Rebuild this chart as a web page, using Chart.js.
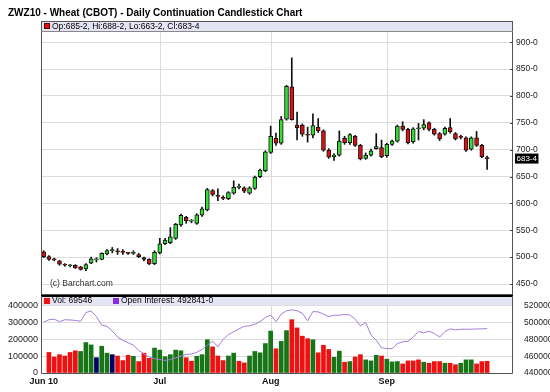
<!DOCTYPE html>
<html>
<head>
<meta charset="utf-8">
<script src="https://cdn.jsdelivr.net/npm/chart.js@4.4.1/dist/chart.umd.min.js"></script>
<style>
  html, body { margin: 0; padding: 0; background: #fff; }
  #wrap { position: relative; width: 550px; height: 392px; }
  #priceChart { position: absolute; left: 0; top: 0; }
  #volChart { position: absolute; left: 0; top: 295px; }
</style>
</head>
<body>
<div id="wrap">
  <canvas id="priceChart" width="550" height="296"></canvas>
  <canvas id="volChart" width="550" height="97"></canvas>
</div>
<script>
// daily bars, Jun 2010 .. Sep 2010
const open = [510, 501, 497, 493, 485.5, 484, 485, 482, 478, 489, 495, 496, 506, 512, 511, 510, 508, 507, 505, 499,
  496, 488, 508, 525, 527, 535, 560, 574, 567, 563, 578, 588, 624, 614, 611, 609, 619, 630, 629, 619,
  628, 650, 661, 695, 721, 712, 757, 817, 746, 746, 728, 727, 742, 735, 699, 687, 690, 721, 713, 725,
  708, 684, 690, 702, 704, 689, 710, 716, 744, 738, 715, 739, 740, 750, 738, 730, 729, 741, 730, 724,
  722, 701, 722, 708, 685.25];
const high = [512, 503, 498, 494, 488, 486, 486, 483, 488, 500, 499, 508, 514, 518, 516, 514, 509, 512, 507, 500,
  497, 512, 535, 535, 555, 563, 580, 576, 570, 581, 593, 628, 626, 627, 614, 622, 642, 636, 631, 631,
  651, 664, 698, 744, 731, 762, 820, 871, 770, 748, 742, 767, 758, 737, 702, 693, 735, 725, 730, 727,
  710, 694, 701, 730, 718, 712, 718, 746, 752, 740, 741, 749, 756, 752, 740, 732, 742, 758, 732, 727,
  724, 724, 734, 710, 688.25];
const low = [499, 494, 493, 485, 483, 482, 479, 476, 475, 488, 491, 495, 504, 508, 505, 505, 505, 505, 499, 493,
  486, 486, 506, 523, 525, 533, 557, 563, 564, 561, 576, 586, 614, 605, 607, 607, 617, 627, 620, 617,
  626, 648, 659, 693, 708, 710, 755, 755, 718, 725, 714, 722, 732, 697, 684, 680, 688, 710, 710, 706,
  681, 682, 688, 701, 685, 686, 708, 714, 735, 711, 712, 718, 737, 735, 727, 717, 727, 731, 718, 720,
  697, 699, 706, 685, 663.25];
const close = [501, 496, 495, 487, 485, 484.5, 480, 477, 486, 497, 495, 507, 512, 512, 510, 509, 507, 507.5, 501, 496,
  487.5, 509, 525, 532, 538, 561, 578, 568, 567.5, 579, 590, 626, 617, 613, 609.5, 620, 630, 631, 623, 629,
  649, 662, 696, 725, 712, 756, 818, 756, 741, 729, 727, 745, 735, 699, 686, 690, 716, 713, 728, 708,
  683, 690, 698, 706, 687, 710, 716, 744, 738, 713, 739, 739.5, 747, 738, 729, 720, 740, 733, 720, 723,
  699, 722, 708, 687, 683.5];

const volume = [null, 122000, 95000, 109000, 101000, 122000, 132000, 128000, 181000, 167000,
  91000, 159000, 118000, 109000, 101000, 74000, 105000, 99000, 68000, 118000,
  87000, 148000, 136000, 97000, 109000, 136000, 132000, 91000, 70000, 99000,
  109000, 198000, 155000, 101000, 74000, 101000, 118000, 70000, 60000, 101000,
  128000, 120000, 175000, 249000, 144000, 188000, 252000, 317000, 268000, 219000,
  204000, 198000, 120000, 165000, 140000, 93000, 130000, 64000, 68000, 95000,
  109000, 78000, 72000, 105000, 101000, 82000, 66000, 68000, 54000, 72000,
  72000, 78000, 64000, 58000, 68000, 68000, 58000, 58000, 49000, 58000,
  78000, 78000, 54000, 68000, 69546];
// u = up, d = down, n = unchanged
const volDir = [null, 'd', 'd', 'd', 'd', 'd', 'd', 'u', 'u', 'u',
  'n', 'u', 'u', 'n', 'd', 'd', 'd', 'u', 'd', 'd',
  'd', 'u', 'u', 'u', 'u', 'u', 'u', 'd', 'd', 'u',
  'u', 'u', 'd', 'd', 'd', 'u', 'u', 'd', 'd', 'u',
  'u', 'u', 'u', 'u', 'd', 'u', 'u', 'd', 'd', 'd',
  'd', 'u', 'd', 'd', 'd', 'u', 'u', 'd', 'u', 'd',
  'd', 'u', 'u', 'u', 'd', 'u', 'u', 'u', 'd', 'd',
  'd', 'd', 'u', 'd', 'd', 'd', 'u', 'd', 'd', 'u',
  'u', 'u', 'd', 'd', 'd'];
const openInterest = [500500, 503300, 504000, 501000, 503300, 503000, 502500, 501500, 511800, 513800,
  507000, 497000, 495500, 490000, 482700, 478800, 476000, 473000, 467000, 462500,
  459000, 457000, 456000, 455000, 456000, 458000, 460000, 462000, 462500, 464500,
  468000, 473000, 478000, 471000, 480000, 485800, 489000, 492400, 495500, 496000,
  498000, 501000, 506000, 508700, 501000, 510000, 514000, 515000, 514000, 511000,
  502000, 513000, 512600, 510000, 507000, 508700, 508700, 509500, 509000, 504000,
  496000, 500000, 485400, 478800, 470000, 469000, 469000, 475000, 477000, 477700,
  482700, 489300, 487800, 489700, 487000, 482700, 489300, 492400, 491300, 492000,
  492000, 492000, 492400, 492400, 492841];

const monthLabels = ['Jun 10', 'Jul', 'Aug', 'Sep'];
const monthStart = [0, 22, 43, 65];
const priceTicks = [450, 500, 550, 600, 650, 700, 750, 800, 850, 900];
const volTicks = [0, 100000, 200000, 300000, 400000];
const oiTicks = [440000, 460000, 480000, 500000, 520000];

const FONT = '"Liberation Sans", Arial, sans-serif';
const X_MIN = -0.5, X_MAX = 88.9;

function fmtPrice(p) {
  const w = Math.floor(p);
  return w + '-' + Math.round((p - w) * 8);
}

// keep the axis labels from shrinking the plot area
function fixWidth(w) {
  return s => { s.width = w; s.paddingTop = 0; s.paddingBottom = 0; };
}

const last = close.length - 1;

function drawMonthLines(chart) {
  const { ctx, chartArea: a } = chart;
  const x = chart.scales.x;
  ctx.save();
  ctx.strokeStyle = '#dcdcdc';
  ctx.lineWidth = 1;
  monthStart.slice(1).forEach(v => {
    const px = Math.round(x.getPixelForValue(v)) + 0.5;
    ctx.beginPath();
    ctx.moveTo(px, a.top);
    ctx.lineTo(px, a.bottom);
    ctx.stroke();
  });
  ctx.restore();
}

const pricePanel = {
  id: 'pricePanel',
  beforeDatasetsDraw(chart) {
    const { ctx, chartArea: a } = chart;
    drawMonthLines(chart);
    ctx.save();
    ctx.fillStyle = '#e4e4f4';
    ctx.fillRect(a.left, a.top, a.right - a.left, 10);
    ctx.restore();
  },
  afterDraw(chart) {
    const { ctx, chartArea: a } = chart;
    const y = chart.scales.y;
    ctx.save();
    // frame
    ctx.strokeStyle = '#555';
    ctx.lineWidth = 1;
    ctx.strokeRect(a.left + 0.5, a.top + 0.5, a.right - a.left - 1, a.bottom - a.top);
    ctx.strokeStyle = '#888';
    ctx.beginPath();
    ctx.moveTo(a.left, a.top + 10.5);
    ctx.lineTo(a.right, a.top + 10.5);
    ctx.stroke();
    // inner tick marks
    ctx.strokeStyle = '#444';
    priceTicks.forEach(v => {
      const py = Math.round(y.getPixelForValue(v)) + 0.5;
      ctx.beginPath();
      ctx.moveTo(a.right - 3, py);
      ctx.lineTo(a.right, py);
      ctx.stroke();
    });
    // title
    ctx.fillStyle = '#000';
    ctx.font = 'bold 10px ' + FONT;
    ctx.textBaseline = 'middle';
    ctx.fillText('ZWZ10 - Wheat (CBOT) - Daily Continuation Candlestick Chart', 8, 13.5);
    // legend
    ctx.fillStyle = '#dd1111';
    ctx.fillRect(a.left + 3, a.top + 2, 6, 6);
    ctx.strokeStyle = '#600';
    ctx.strokeRect(a.left + 3.5, a.top + 2.5, 5, 5);
    ctx.fillStyle = '#000';
    ctx.font = '8.5px ' + FONT;
    ctx.fillText('Op:' + fmtPrice(open[last]) + ', Hi:' + fmtPrice(high[last]) + ', Lo:' +
      fmtPrice(low[last]) + ', Cl:' + fmtPrice(close[last]), a.left + 11, a.top + 5.5);
    // watermark
    ctx.fillStyle = '#333';
    ctx.font = '8.5px ' + FONT;
    ctx.fillText('(c) Barchart.com', 50, a.bottom - 10);
    // last price box
    const cy = y.getPixelForValue(close[last]);
    ctx.font = '8px ' + FONT;
    const lbl = fmtPrice(close[last]);
    const w = ctx.measureText(lbl).width;
    ctx.fillStyle = '#000';
    ctx.fillRect(a.right + 2, cy - 5, w + 3, 10);
    ctx.fillStyle = '#fff';
    ctx.fillText(lbl, a.right + 3.5, cy);
    ctx.restore();
  }
};

const volPanel = {
  id: 'volPanel',
  beforeDatasetsDraw(chart) {
    const { ctx, chartArea: a } = chart;
    drawMonthLines(chart);
    ctx.save();
    ctx.fillStyle = '#e4e4f4';
    ctx.fillRect(a.left, a.top, a.right - a.left, 9);
    ctx.restore();
  },
  afterDraw(chart) {
    const { ctx, chartArea: a } = chart;
    ctx.save();
    ctx.fillStyle = '#000';
    ctx.fillRect(a.left, 0, a.right - a.left, 2);
    ctx.strokeStyle = '#555';
    ctx.lineWidth = 1;
    ctx.beginPath();
    ctx.moveTo(a.left + 0.5, a.top);
    ctx.lineTo(a.left + 0.5, a.bottom + 0.5);
    ctx.lineTo(a.right - 0.5, a.bottom + 0.5);
    ctx.lineTo(a.right - 0.5, a.top);
    ctx.stroke();
    ctx.font = '8.5px ' + FONT;
    ctx.textBaseline = 'middle';
    ctx.fillStyle = '#ee1111';
    ctx.fillRect(a.left + 3, a.top + 2, 6, 6);
    ctx.fillStyle = '#000';
    ctx.fillText('Vol: ' + volume[last], a.left + 11, a.top + 5);
    ctx.fillStyle = '#8a2be2';
    ctx.fillRect(a.left + 72, a.top + 2, 6, 6);
    ctx.fillStyle = '#000';
    ctx.fillText('Open Interest: ' + openInterest[last] + '-0', a.left + 80, a.top + 5);
    // month labels under the volume panel
    ctx.font = 'bold 9px ' + FONT;
    ctx.textAlign = 'center';
    ctx.fillStyle = '#111';
    monthStart.forEach((v, i) => {
      ctx.fillText(monthLabels[i], chart.scales.x.getPixelForValue(v), a.bottom + 9);
    });
    ctx.restore();
  }
};

const bodies = open.map((o, i) => ({ x: i, y: [o, close[i]] }));
const wicks = high.map((h, i) => ({ x: i, y: [low[i], h] }));

new Chart(document.getElementById('priceChart'), {
  type: 'bar',
  data: {
    datasets: [
      {
        data: bodies, order: 0, grouped: false, barThickness: 4, minBarLength: 1,
        borderWidth: 1, borderColor: '#111', borderSkipped: false,
        backgroundColor: close.map((c, i) => c >= open[i] ? '#33dd33' : '#dd1111')
      },
      { data: wicks, order: 1, grouped: false, barThickness: 1, backgroundColor: '#111' }
    ]
  },
  options: {
    responsive: false,
    animation: false,
    layout: { padding: { left: 41, top: 21, right: 0, bottom: 2 } },
    plugins: { legend: { display: false }, tooltip: { enabled: false } },
    scales: {
      x: { type: 'linear', display: false, min: X_MIN, max: X_MAX, offset: false },
      y: {
        position: 'right', min: 431.4, max: 939.6,
        afterBuildTicks: s => { s.ticks = priceTicks.map(v => ({ value: v })); },
        ticks: { callback: v => v + '-0', font: { family: FONT, size: 8.5 }, color: '#222', padding: 3 },
        grid: { color: '#dcdcdc', drawTicks: false },
        border: { display: false },
        afterFit: fixWidth(37)
      }
    }
  },
  plugins: [pricePanel]
});

const volColors = { u: '#177517', d: '#ee1111', n: '#000066' };

new Chart(document.getElementById('volChart'), {
  type: 'bar',
  data: {
    datasets: [
      {
        type: 'line', data: openInterest.map((v, i) => ({ x: i, y: v })), yAxisID: 'y2', order: 0,
        borderColor: '#a37cd8', borderWidth: 1, pointRadius: 0, tension: 0
      },
      {
        data: volume.map((v, i) => ({ x: i, y: v })), yAxisID: 'y', order: 1, barThickness: 4,
        backgroundColor: volDir.map(d => volColors[d] || '#000')
      }
    ]
  },
  options: {
    responsive: false,
    animation: false,
    layout: { padding: { left: 0, top: 1, right: 0, bottom: 19 } },
    plugins: { legend: { display: false }, tooltip: { enabled: false } },
    scales: {
      x: { type: 'linear', display: false, min: X_MIN, max: X_MAX, offset: false },
      y: {
        position: 'left', min: 0, max: 457600,
        afterBuildTicks: s => { s.ticks = volTicks.map(v => ({ value: v })); },
        ticks: { font: { family: FONT, size: 9 }, color: '#222', padding: 3, callback: v => String(v) },
        grid: { color: '#dcdcdc', drawTicks: false },
        border: { display: false },
        afterFit: fixWidth(41)
      },
      y2: {
        position: 'right', min: 440000, max: 531500,
        afterBuildTicks: s => { s.ticks = oiTicks.map(v => ({ value: v })); },
        ticks: { font: { family: FONT, size: 8.5 }, color: '#222', padding: 3, callback: v => String(v) },
        grid: { display: false },
        border: { display: false },
        afterFit: fixWidth(37)
      }
    }
  },
  plugins: [volPanel]
});
</script>
</body>
</html>
